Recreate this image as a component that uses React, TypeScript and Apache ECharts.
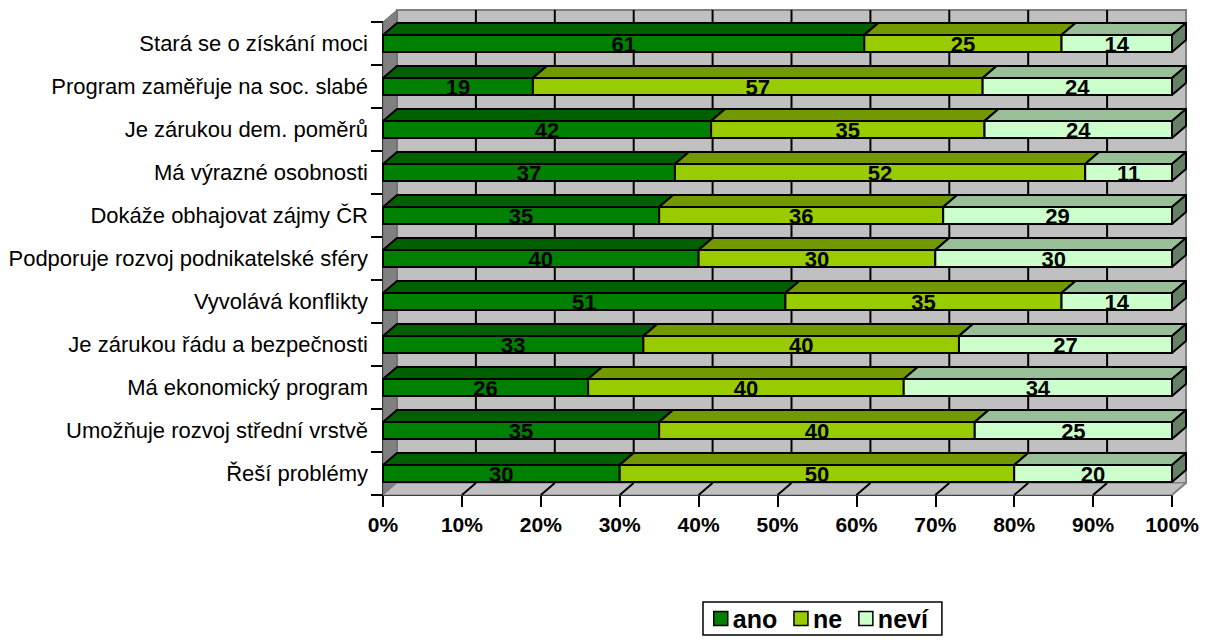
import React, { useEffect, useRef } from "react";
import * as echarts from "echarts";

const categories = [
  "Stará se o získání moci",
  "Program zaměřuje na soc. slabé",
  "Je zárukou dem. poměrů",
  "Má výrazné osobnosti",
  "Dokáže obhajovat zájmy ČR",
  "Podporuje rozvoj podnikatelské sféry",
  "Vyvolává konflikty",
  "Je zárukou řádu a bezpečnosti",
  "Má ekonomický program",
  "Umožňuje rozvoj střední vrstvě",
  "Řeší problémy",
];
const ano = [61, 19, 42, 37, 35, 40, 51, 33, 26, 35, 30];
const ne = [25, 57, 35, 52, 36, 30, 35, 40, 40, 40, 50];
const nevi = [14, 24, 24, 11, 29, 30, 14, 27, 34, 25, 20];
const seriesNames = ["ano", "ne", "neví"];
const xTicks = [0, 10, 20, 30, 40, 50, 60, 70, 80, 90, 100];

const FONT = 'Arial, "Liberation Sans", sans-serif';
const DX = 14;
const DY = 12;
const BAR_H = 17;

const palette = [
  { front: "#008000", top: "#006000", side: "#004d00" },
  { front: "#99CC00", top: "#739900", side: "#5c7a00" },
  { front: "#CCFFCC", top: "#99BF99", side: "#668066" },
];

function buildSeriesData() {
  const all = [ano, ne, nevi];
  const out: number[][][] = [[], [], []];
  for (let i = 0; i < categories.length; i++) {
    const total = ano[i] + ne[i] + nevi[i];
    let acc = 0;
    for (let s = 0; s < 3; s++) {
      const v = all[s][i];
      const start = (acc / total) * 100;
      acc += v;
      const end = (acc / total) * 100;
      out[s].push([i, start, end, v]);
    }
  }
  return out;
}

export default function App() {
  const ref = useRef<HTMLDivElement>(null);
  useEffect(() => {
    if (!ref.current) return;
    const chart = echarts.init(ref.current, null, { renderer: "svg" });
    const data = buildSeriesData();

    const wallRender = (params: any, api: any) => {
      const band = api.size([0, 1])[1];
      const pTop = api.coord([0, 0]);
      const pBot = api.coord([0, categories.length - 1]);
      const yT = pTop[1] - band / 2;
      const yB = pBot[1] + band / 2;
      const x0 = api.coord([0, 0])[0];
      const x1 = api.coord([100, 0])[0];
      const children: any[] = [];
      children.push({
        type: "rect",
        shape: { x: x0 + DX, y: yT - DY, width: x1 - x0, height: yB - yT },
        style: { fill: "#C0C0C0", stroke: "#808080", lineWidth: 2 },
      });
      xTicks.forEach((t) => {
        if (t === 0 || t === 100) return;
        const x = api.coord([t, 0])[0] + DX;
        children.push({
          type: "line",
          shape: { x1: x, y1: yT - DY, x2: x, y2: yB - DY },
          style: { stroke: "#000", lineWidth: 2 },
        });
      });
      children.push({
        type: "polygon",
        shape: {
          points: [
            [x0, yT],
            [x0 + DX, yT - DY],
            [x0 + DX, yB - DY],
            [x0, yB],
          ],
        },
        style: { fill: "#808080", stroke: "#666", lineWidth: 1 },
      });
      children.push({
        type: "polygon",
        shape: {
          points: [
            [x0, yB],
            [x0 + DX, yB - DY],
            [x1 + DX, yB - DY],
            [x1, yB],
          ],
        },
        style: { fill: "#C0C0C0", stroke: "#808080", lineWidth: 1 },
      });
      xTicks.forEach((t) => {
        if (t === 0) return;
        const x = api.coord([t, 0])[0];
        children.push({
          type: "line",
          shape: { x1: x, y1: yB, x2: x + DX, y2: yB - DY },
          style: { stroke: t === 100 ? "#808080" : "#000", lineWidth: 2 },
        });
      });
      return { type: "group", children };
    };

    const makeBarRender = (sIdx: number) => (params: any, api: any) => {
      const cat = api.value(0);
      const s = api.value(1);
      const e = api.value(2);
      const v = api.value(3);
      const p0 = api.coord([s, cat]);
      const p1 = api.coord([e, cat]);
      const yc = p0[1];
      const yT = yc - BAR_H / 2;
      const yB = yc + BAR_H / 2;
      const xa = p0[0];
      const xb = p1[0];
      const col = palette[sIdx];
      const lineStyle = { stroke: "#000", lineWidth: 2, lineJoin: "round" };
      const children: any[] = [
        {
          type: "polygon",
          shape: {
            points: [
              [xa, yT],
              [xa + DX, yT - DY],
              [xb + DX, yT - DY],
              [xb, yT],
            ],
          },
          style: { fill: col.top, ...lineStyle },
        },
        {
          type: "polygon",
          shape: {
            points: [
              [xb, yT],
              [xb + DX, yT - DY],
              [xb + DX, yB - DY],
              [xb, yB],
            ],
          },
          style: { fill: col.side, ...lineStyle },
        },
        {
          type: "rect",
          shape: { x: xa, y: yT, width: xb - xa, height: BAR_H },
          style: { fill: col.front, ...lineStyle },
        },
        {
          type: "text",
          style: {
            text: String(v),
            x: (xa + xb) / 2,
            y: yc + 1,
            align: "center",
            verticalAlign: "middle",
            fontSize: 22,
            fontWeight: "bold",
            fontFamily: FONT,
            fill: "#000",
          },
        },
      ];
      return { type: "group", children };
    };

    const option: any = {
      animation: false,
      backgroundColor: "#fff",
      grid: { left: 383, right: 37, top: 22, bottom: 147, containLabel: false },
      xAxis: {
        type: "value",
        min: 0,
        max: 100,
        interval: 10,
        axisLine: { show: true, lineStyle: { color: "#000", width: 2 } },
        axisTick: { show: true, length: 12, lineStyle: { color: "#000", width: 2 } },
        splitLine: { show: false },
        axisLabel: {
          formatter: "{value}%",
          fontSize: 21,
          fontWeight: "bold",
          fontFamily: FONT,
          color: "#000",
          margin: 19,
        },
      },
      yAxis: {
        type: "category",
        inverse: true,
        data: categories,
        axisLine: { show: true, lineStyle: { color: "#000", width: 2 } },
        axisTick: { show: true, length: 12, lineStyle: { color: "#000", width: 2 } },
        axisLabel: {
          fontSize: 22,
          fontFamily: FONT,
          color: "#000",
          margin: 15,
        },
      },
      legend: {
        left: 703,
        top: 602,
        orient: "horizontal",
        borderColor: "#000",
        borderWidth: 1.5,
        padding: [4, 14, 4, 10],
        itemGap: 16,
        itemWidth: 14,
        itemHeight: 14,
        icon: "rect",
        textStyle: { fontSize: 25, fontWeight: "bold", fontFamily: FONT, color: "#000" },
        data: seriesNames.map((n, i) => ({
          name: n,
          itemStyle: { color: palette[i].front, borderColor: "#000", borderWidth: 1.5 },
        })),
      },
      series: [
        {
          type: "custom",
          name: "wall",
          renderItem: wallRender,
          data: [[0, 0]],
          encode: { x: 1, y: 0 },
          clip: false,
          silent: true,
          z: 1,
        },
        ...seriesNames.map((n, sIdx) => ({
          type: "custom",
          name: n,
          renderItem: makeBarRender(sIdx),
          data: data[sIdx],
          encode: { x: [1, 2], y: 0 },
          itemStyle: { color: palette[sIdx].front },
          clip: false,
          z: 2 + sIdx,
        })),
      ],
    };
    chart.setOption(option);
    return () => chart.dispose();
  }, []);

  return (
    <div
      ref={ref}
      style={{ position: "fixed", left: 0, top: 0, width: 1209, height: 642 }}
    />
  );
}
